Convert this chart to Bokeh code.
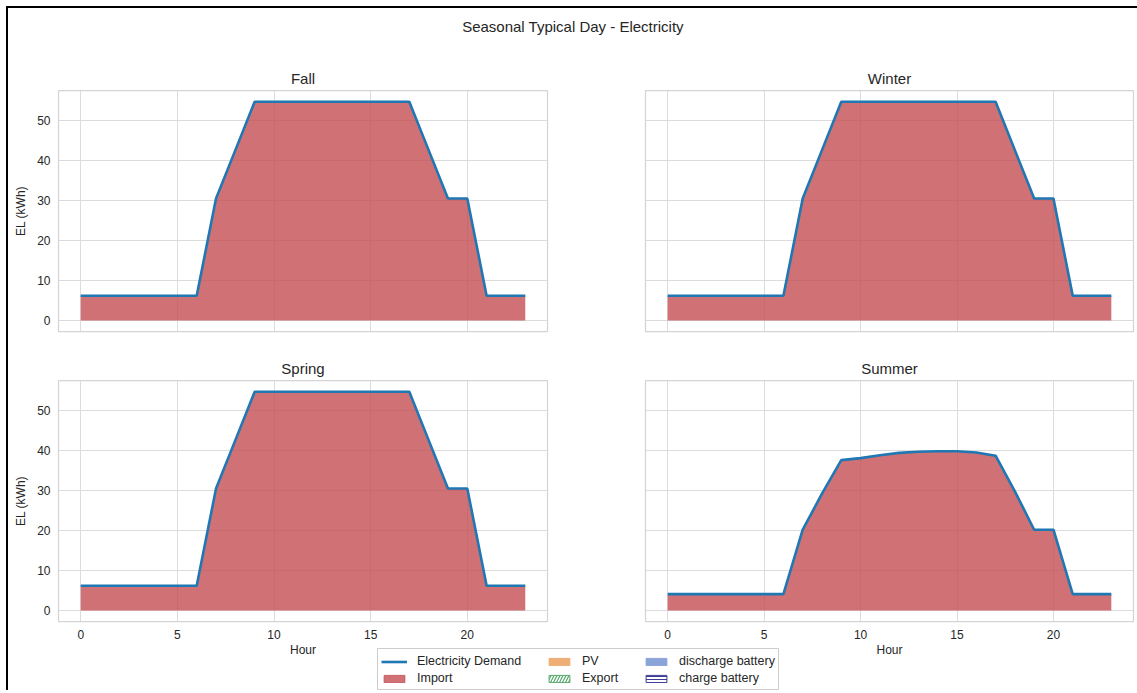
from bokeh.plotting import figure
from bokeh.layouts import column, row
from bokeh.models import Range1d, FixedTicker, Legend, LegendItem, ColumnDataSource
from bokeh.embed import file_html
from bokeh.resources import INLINE

# ---------------- data ----------------
hours = [0, 1, 2, 3, 4, 5, 6, 7, 8, 9, 10, 11, 12, 13, 14, 15, 16, 17, 18, 19, 20, 21, 22, 23]

demand_fall = [6.2, 6.2, 6.2, 6.2, 6.2, 6.2, 6.2, 30.5, 42.6, 54.7, 54.7, 54.7,
               54.7, 54.7, 54.7, 54.7, 54.7, 54.7, 42.6, 30.5, 30.5, 6.2, 6.2, 6.2]
demand_winter = [6.2, 6.2, 6.2, 6.2, 6.2, 6.2, 6.2, 30.5, 42.6, 54.7, 54.7, 54.7,
                 54.7, 54.7, 54.7, 54.7, 54.7, 54.7, 42.6, 30.5, 30.5, 6.2, 6.2, 6.2]
demand_spring = [6.2, 6.2, 6.2, 6.2, 6.2, 6.2, 6.2, 30.5, 42.6, 54.7, 54.7, 54.7,
                 54.7, 54.7, 54.7, 54.7, 54.7, 54.7, 42.6, 30.5, 30.5, 6.2, 6.2, 6.2]
demand_summer = [4.1, 4.1, 4.1, 4.1, 4.1, 4.1, 4.1, 20.2, 29.2, 37.6, 38.1, 38.8,
                 39.4, 39.7, 39.8, 39.8, 39.5, 38.7, 29.8, 20.2, 20.2, 4.1, 4.1, 4.1]

# Import covers all demand in this case (no PV / battery contribution)
import_fall = demand_fall
import_winter = demand_winter
import_spring = demand_spring
import_summer = demand_summer

seasons = ["Fall", "Winter", "Spring", "Summer"]
x_ticks = [0, 5, 10, 15, 20]
y_ticks = [0, 10, 20, 30, 40, 50]

main_title = "Seasonal Typical Day - Electricity"
y_label = "EL (kWh)"
x_label = "Hour"
legend_labels = ["Electricity Demand", "Import", "PV", "Export",
                 "discharge battery", "charge battery"]

# ---------------- style ----------------
FONT = "Liberation Sans"
TXT = "#262626"
GRID = "#dcdcdc"
SPINE = "#d4d4d4"
LINE_C = "#1f77b4"
IMPORT_C = "#C44E52"
PV_C = "#EFAE76"
EXPORT_C = "#55A868"
DIS_C = "#8AA4DA"
CHG_C = "#3c3c96"

FW_L, FW_R, FH = 489, 488, 241


def panel(title, demand, imp, left, bottom, b):
    p = figure(frame_width=FW_L if left else FW_R, frame_height=FH,
               x_range=Range1d(-1.15, 24.15), y_range=Range1d(-2.74, 57.5),
               output_backend="svg", toolbar_location=None, title=title,
               min_border_left=b[0], min_border_right=b[1],
               min_border_top=b[2], min_border_bottom=b[3])
    p.title.align = "center"
    p.title.text_font = FONT
    p.title.text_font_size = "15px"
    p.title.text_font_style = "normal"
    p.title.text_color = TXT
    p.title.standoff = 7
    p.outline_line_color = SPINE
    p.outline_line_width = 1.25
    p.background_fill_color = "white"
    p.border_fill_color = "white"

    p.xaxis.ticker = FixedTicker(ticks=x_ticks)
    p.yaxis.ticker = FixedTicker(ticks=y_ticks)
    for ax in (p.xaxis, p.yaxis):
        ax.axis_line_color = None
        ax.major_tick_line_color = None
        ax.minor_tick_line_color = None
        ax.major_tick_out = 0
        ax.major_tick_in = 0
        ax.minor_tick_out = 0
        ax.minor_tick_in = 0
        ax.major_label_text_font = FONT
        ax.major_label_text_font_size = "12px"
        ax.major_label_text_color = TXT
        ax.axis_label_text_font = FONT
        ax.axis_label_text_font_size = "12px"
        ax.axis_label_text_font_style = "normal"
        ax.axis_label_text_color = TXT
    p.xaxis.major_label_standoff = 8
    p.yaxis.major_label_standoff = 8
    p.xaxis.axis_label_standoff = 1
    p.yaxis.axis_label_standoff = 6
    p.xgrid.grid_line_color = GRID
    p.ygrid.grid_line_color = GRID
    p.xgrid.grid_line_width = 1
    p.ygrid.grid_line_width = 1

    if left:
        p.yaxis.axis_label = y_label
    else:
        p.yaxis.visible = False
    if bottom:
        p.xaxis.axis_label = x_label
    else:
        p.xaxis.visible = False

    src = ColumnDataSource(dict(hour=hours, demand=demand, imp=imp))
    p.varea(x="hour", y1=0, y2="imp", source=src, fill_color=IMPORT_C, fill_alpha=0.8)
    p.line(x="hour", y="demand", source=src, line_color=LINE_C, line_width=2.6)
    return p


header = figure(width=1129, height=50, output_backend="svg", toolbar_location=None,
                title=main_title, x_range=Range1d(0, 1), y_range=Range1d(0, 1),
                min_border_left=0, min_border_right=0, min_border_top=31, min_border_bottom=0)
header.axis.visible = False
header.grid.visible = False
header.outline_line_color = None
header.title.align = "center"
header.title.text_font = FONT
header.title.text_font_size = "15px"
header.title.text_font_style = "normal"
header.title.text_color = TXT
header.title.standoff = 10
header.title.offset = 0

p_fall = panel(seasons[0], demand_fall, import_fall, True, False, (50, 88, 32, 9))
p_winter = panel(seasons[1], demand_winter, import_winter, False, False, (10, 2, 32, 9))
p_spring = panel(seasons[2], demand_spring, import_spring, True, True, (50, 88, 40, 40))
p_summer = panel(seasons[3], demand_summer, import_summer, False, True, (10, 2, 40, 40))

# ---------------- legend ----------------
lg = figure(width=402, height=42, output_backend="svg", toolbar_location=None,
            x_range=Range1d(0, 1), y_range=Range1d(0, 1),
            min_border_left=0, min_border_right=0, min_border_top=0, min_border_bottom=0,
            margin=(-13, 0, 0, 369))
lg.axis.visible = False
lg.grid.visible = False
lg.outline_line_color = "#cccccc"
lg.outline_line_width = 1
lg.background_fill_color = "white"
lg.border_fill_alpha = 0

nan = float("nan")


def dummy():
    return ColumnDataSource(dict(x=[nan], y=[nan], l=[nan], r=[nan], b=[nan], t=[nan]))


r_dem = lg.line(x="x", y="y", source=dummy(), line_color=LINE_C, line_width=2.6)
r_imp = lg.quad(left="l", right="r", bottom="b", top="t", source=dummy(),
                fill_color=IMPORT_C, fill_alpha=0.8, line_color=IMPORT_C, line_alpha=0.8)
r_pv = lg.quad(left="l", right="r", bottom="b", top="t", source=dummy(),
               fill_color=PV_C, line_color=PV_C)
r_exp = lg.quad(left="l", right="r", bottom="b", top="t", source=dummy(),
                fill_color="white", line_color=EXPORT_C, hatch_pattern="/",
                hatch_color=EXPORT_C, hatch_scale=6, hatch_weight=1.2)
r_dis = lg.quad(left="l", right="r", bottom="b", top="t", source=dummy(),
                fill_color=DIS_C, line_color=DIS_C)
r_chg = lg.quad(left="l", right="r", bottom="b", top="t", source=dummy(),
                fill_color="white", line_color=CHG_C, hatch_pattern="-",
                hatch_color=CHG_C, hatch_scale=3, hatch_weight=1)
rends = [r_dem, r_imp, r_pv, r_exp, r_dis, r_chg]

col_x = [4, 169, 266]
for c in range(3):
    its = [LegendItem(label=legend_labels[2 * c + k], renderers=[rends[2 * c + k]]) for k in range(2)]
    lgd = Legend(items=its, location=(col_x[c], 5), orientation="vertical",
                 glyph_width=26, glyph_height=9, label_height=14, label_standoff=10,
                 spacing=3, padding=0, margin=0,
                 label_text_font=FONT, label_text_font_size="12.5px", label_text_color=TXT,
                 border_line_color=None, background_fill_alpha=0)
    lg.add_layout(lgd, "center")

layout = column(header, row(p_fall, p_winter), row(p_spring, p_summer), lg,
                margin=(6, 0, 0, 6),
                styles={"border-left": "2px solid black", "border-top": "2px solid black"})

open("out.html", "w").write(file_html(layout, INLINE))
